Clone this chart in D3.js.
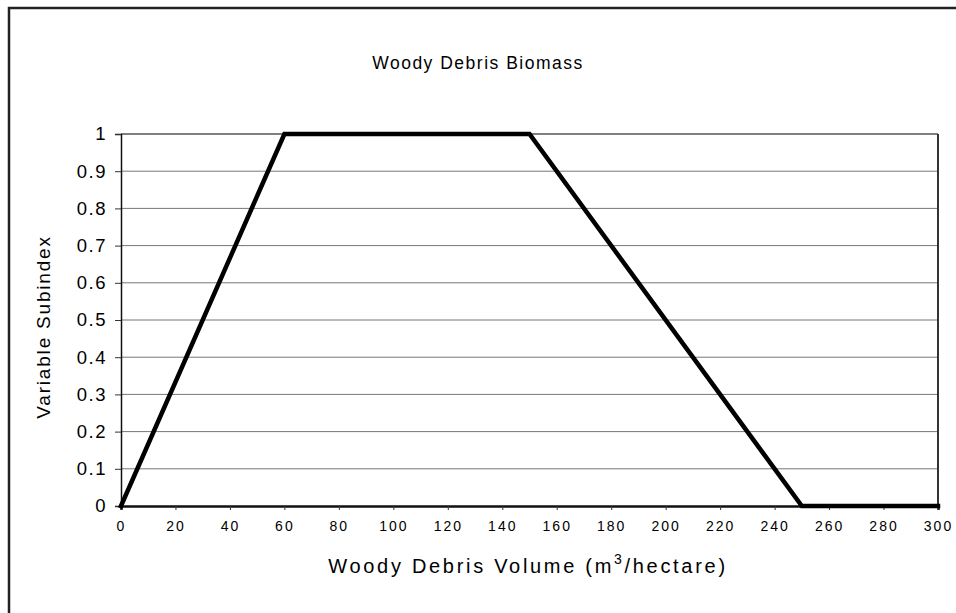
<!DOCTYPE html>
<html>
<head>
<meta charset="utf-8">
<script src="https://cdn.jsdelivr.net/npm/d3@7"></script>
<style>
    body { margin: 0; background: #fff; }
    text { font-family: "Liberation Sans", Arial, sans-serif; fill: #000; }
</style>
</head>
<body>
<div id="chart"></div>
<script>
/* Woody debris biomass subindex curve */

const volumes = [0, 60, 150, 250, 300];
const subindex = [0, 1, 1, 0, 0];
const xTicks = [0, 20, 40, 60, 80, 100, 120, 140, 160, 180, 200, 220, 240, 260, 280, 300];
const yTicks = [0, 0.1, 0.2, 0.3, 0.4, 0.5, 0.6, 0.7, 0.8, 0.9, 1];

const width = 956;
const height = 613;
const margin = { top: 134, right: 18, bottom: 107, left: 121 };

const svg = d3.select('#chart')
    .append('svg')
    .attr('width', width)
    .attr('height', height);

// Outer chart frame (only left and top edges show)
svg.append('path')
    .attr('d', `M 9 ${height} V 8 H ${width}`)
    .attr('fill', 'none')
    .attr('stroke', '#222')
    .attr('stroke-width', 2.5);

const x = d3.scaleLinear()
    .domain([0, 300])
    .range([margin.left, width - margin.right]);

const y = d3.scaleLinear()
    .domain([0, 1])
    .range([height - margin.bottom, margin.top]);

// Gridlines
svg.append('g')
    .selectAll('line')
    .data(yTicks.filter(d => d > 0))
    .join('line')
    .attr('x1', x(0))
    .attr('x2', x(300))
    .attr('y1', d => y(d))
    .attr('y2', d => y(d))
    .attr('stroke', d => d === 1 ? '#555' : '#777')
    .attr('stroke-width', d => d === 1 ? 1.5 : 1);

// Right plot border
svg.append('line')
    .attr('x1', x(300)).attr('x2', x(300))
    .attr('y1', y(1)).attr('y2', y(0))
    .attr('stroke', '#333')
    .attr('stroke-width', 2);

// Y axis
const yAxis = svg.append('g')
    .attr('transform', `translate(${x(0)},0)`)
    .call(d3.axisLeft(y).tickValues(yTicks).tickSize(6).tickPadding(8)
        .tickFormat(d => d3.format('~g')(d)));
yAxis.select('.domain').attr('stroke', '#111').attr('stroke-width', 1.5);
yAxis.selectAll('.tick line').attr('stroke', '#333');
yAxis.selectAll('text')
    .attr('font-size', 18.5)
    .attr('letter-spacing', 1.5)
    .attr('font-family', '"Liberation Sans", Arial, sans-serif');

// X axis
const xAxis = svg.append('g')
    .attr('transform', `translate(0,${y(0)})`)
    .call(d3.axisBottom(x).tickValues(xTicks).tickSize(4).tickPadding(11));
xAxis.select('.domain').attr('stroke', '#111').attr('stroke-width', 2.5);
xAxis.selectAll('.tick line').attr('stroke', '#333');
xAxis.selectAll('text')
    .attr('font-size', 14)
    .attr('letter-spacing', 2)
    .attr('font-family', '"Liberation Sans", Arial, sans-serif');

// Data line
const line = d3.line()
    .x((d, i) => x(volumes[i]))
    .y(d => y(d));

svg.append('path')
    .datum(subindex)
    .attr('d', line)
    .attr('fill', 'none')
    .attr('stroke', '#000')
    .attr('stroke-width', 4.5)
    .attr('stroke-linejoin', 'miter')
    .attr('stroke-linecap', 'square');

// Title
svg.append('text')
    .attr('x', 478)
    .attr('y', 69)
    .attr('text-anchor', 'middle')
    .attr('font-size', 17.5)
    .attr('letter-spacing', 1.5)
    .text('Woody Debris Biomass');

// Axis titles
svg.append('text')
    .attr('transform', 'translate(50,327) rotate(-90)')
    .attr('text-anchor', 'middle')
    .attr('font-size', 19)
    .attr('letter-spacing', 1.8)
    .text('Variable Subindex');

const xTitle = svg.append('text')
    .attr('x', 528)
    .attr('y', 573)
    .attr('text-anchor', 'middle')
    .attr('font-size', 20)
    .attr('letter-spacing', 2.7);
xTitle.append('tspan').text('Woody Debris Volume (m');
xTitle.append('tspan').attr('dy', -9).attr('font-size', 14).text('3');
xTitle.append('tspan').attr('dy', 9).text('/hectare)');
</script>
</body>
</html>
